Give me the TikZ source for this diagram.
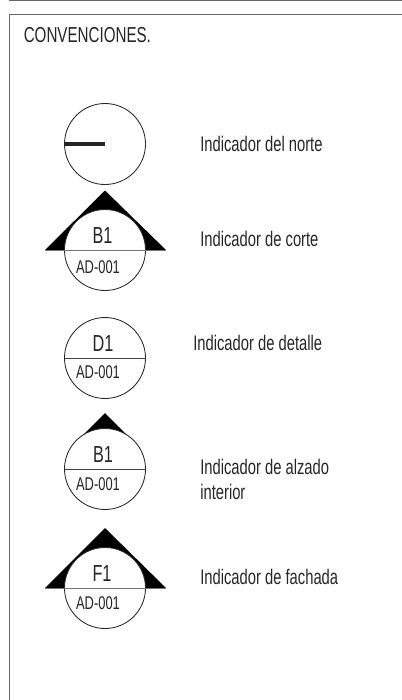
\documentclass[tikz,border=0pt]{standalone}
\usepackage{fontspec}
\setmainfont{Liberation Sans}[FakeStretch=0.7]
\usetikzlibrary{calc}

\tikzset{
    marco/.style={draw=black!60, line width=0.55pt},
    sello/.style={draw=black!85, fill=white, line width=0.6pt},
    cuna/.style={fill=black, draw=none},
    corte/.style={draw=black!55, line width=0.6pt},
    aguja/.style={draw=black!85, line width=2.8pt},
    rotulo/.style={anchor=west, inner sep=0pt, text=black!85, font=\fontsize{15}{17.8}\selectfont, align=left},
    clave/.style={inner sep=0pt, text=black!85, font=\fontsize{16.5}{18}\selectfont},
    plano/.style={inner sep=0pt, text=black!85, font=\fontsize{13.1}{15}\selectfont}
}

\begin{document}
\begin{tikzpicture}[x=0.025cm, y=-0.025cm, line cap=butt]
    \useasboundingbox (0, 0) rectangle (402, 700);

    % marco
    \coordinate (T0) at (9, 0.4);
    \coordinate (T1) at (402, 0.4);
    \coordinate (M0) at (9, 700);
    \coordinate (M1) at (9, 14.5);
    \coordinate (M2) at (402, 14.5);
    \draw[marco] (T0) -- (T1);
    \draw[marco] (M0) -- (M1) -- (M2);
    \node[rotulo, font=\fontsize{15.4}{18}\selectfont] (titulo) at (23.5, 35) {CONVENCIONES.};

    % centros
    \coordinate (N) at (105, 144);
    \coordinate (C) at (105, 250);
    \coordinate (D) at (105, 358);
    \coordinate (A) at (105, 469);
    \coordinate (F) at (105, 588);

    % norte
    \draw[sello] (N) circle (40.5);
    \draw[aguja] (64.5, 144) -- (N);
    \node[rotulo] (tnorte) at (200, 143.5) {Indicador del norte};

    % corte
    \fill[cuna] (45, 250) -- (105, 190.5) -- (166, 250) -- cycle;
    \draw[sello] (C) circle (40.5);
    \draw[corte] (45, 250) -- (166, 250);
    \node[clave] (c1) at (102.5, 236) {B1};
    \node[plano] (c2) at (98, 267) {AD-001};
    \node[rotulo] (tcorte) at (200, 238.5) {Indicador de corte};

    % detalle
    \draw[sello] (D) circle (40.5);
    \draw[corte, draw=black!75] (64.5, 358) -- (145.5, 358);
    \node[clave] (d1) at (103, 343.5) {D1};
    \node[plano] (d2) at (98, 372) {AD-001};
    \node[rotulo] (tdetalle) at (193, 343) {Indicador de detalle};

    % alzado interior
    \fill[cuna] (105, 413) -- (77, 441) -- (133, 441) -- cycle;
    \draw[sello] (A) circle (40.5);
    \draw[corte, draw=black!75] (64.5, 469) -- (145.5, 469);
    \node[clave] (a1) at (103, 454.5) {B1};
    \node[plano] (a2) at (98, 484) {AD-001};
    \node[rotulo] (talzado) at (200, 479.5) {Indicador de alzado\\interior};

    % fachada
    \fill[cuna] (45, 588) -- (105, 528) -- (166, 588) -- cycle;
    \draw[sello] (F) circle (40.5);
    \draw[corte] (45, 588) -- (166, 588);
    \node[clave] (f1) at (102, 574) {F1};
    \node[plano] (f2) at (98, 603) {AD-001};
    \node[rotulo] (tfachada) at (200, 577) {Indicador de fachada};
\end{tikzpicture}
\end{document}
